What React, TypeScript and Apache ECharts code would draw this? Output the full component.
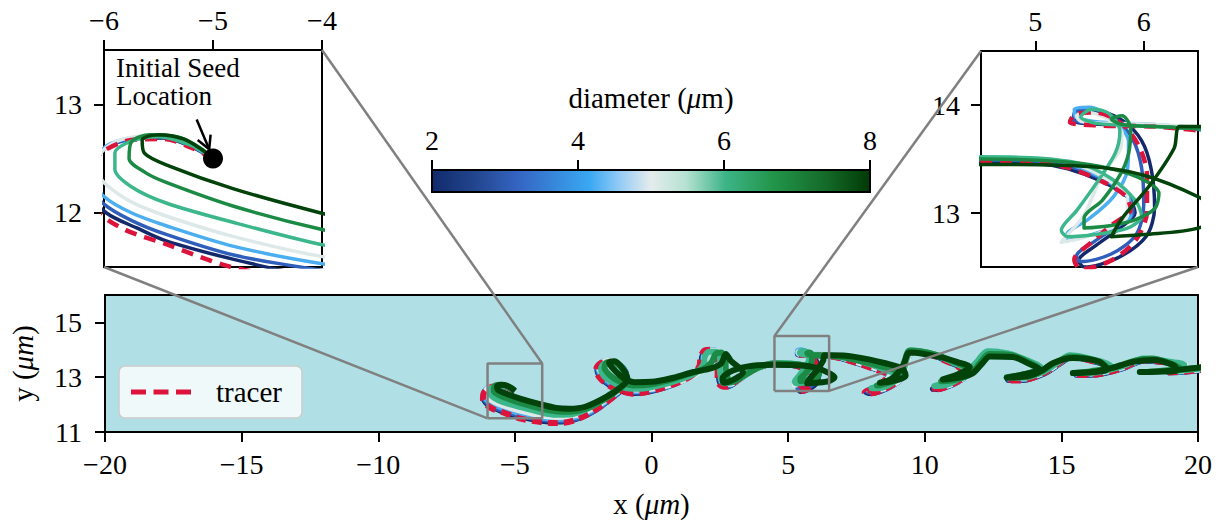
import React, { useEffect, useRef } from 'react';
import * as echarts from 'echarts';

const FONT = '"Liberation Serif", "DejaVu Serif", serif';

// Particle trajectories in the x–y plane (μm), all released at the seed point.
const tracer: number[][] = [
  [-5.0, 12.5], [-5.2, 12.6], [-5.45, 12.68], [-5.75, 12.67], [-6.0, 12.57], [-6.15, 12.4], [-6.17, 12.2], [-6.05, 12.0],
  [-5.8, 11.84], [-5.43, 11.71], [-4.87, 11.51], [-4.3, 11.4], [-3.7, 11.33], [-3.2, 11.34], [-2.7, 11.47], [-2.2, 11.72],
  [-1.7, 12.05], [-1.25, 12.4], [-0.95, 12.75], [-0.95, 13.1], [-1.2, 13.42], [-1.55, 13.56], [-1.88, 13.5], [-2.03, 13.27],
  [-1.9, 12.98], [-1.6, 12.72], [-1.2, 12.52], [-0.7, 12.4], [-0.2, 12.45], [0.4, 12.6], [1.0, 12.82], [1.5, 13.08],
  [1.75, 13.4], [1.8, 13.75], [1.95, 13.98], [2.2, 14.0], [2.38, 13.78], [2.42, 13.4], [2.42, 13.0], [2.5, 12.72],
  [2.75, 12.65], [3.1, 12.85], [3.6, 13.2], [4.1, 13.42], [4.5, 13.48], [5.0, 13.47], [5.3, 13.42], [5.6, 13.3],
  [5.83, 13.16], [5.88, 13.03], [5.72, 12.9], [5.52, 12.73], [5.36, 12.57], [5.42, 12.48], [5.68, 12.55], [5.92, 12.74],
  [6.03, 13.02], [6.03, 13.35], [5.95, 13.63], [5.78, 13.84], [5.55, 13.93], [5.36, 13.91], [5.32, 13.84], [5.6, 13.81],
  [6.1, 13.8], [6.8, 13.72], [7.5, 13.52], [8.2, 13.28], [8.65, 13.08], [8.5, 12.85], [8.1, 12.58], [7.8, 12.45],
  [7.95, 12.4], [8.5, 12.55], [9.0, 12.85], [9.2, 13.3], [9.35, 13.75], [9.5, 13.95], [10.1, 13.85], [10.8, 13.58],
  [11.35, 13.25], [11.0, 12.95], [10.5, 12.65], [10.25, 12.55], [10.6, 12.58], [11.3, 12.9], [11.85, 13.45], [12.3, 13.92],
  [13.0, 13.85], [13.7, 13.58], [14.2, 13.32], [13.8, 13.08], [13.0, 12.88], [13.5, 12.88], [14.3, 13.12], [14.9, 13.5],
  [15.3, 13.75], [16.0, 13.62], [16.75, 13.36], [16.3, 13.17], [15.5, 13.08], [16.3, 13.1], [17.2, 13.32], [18.0, 13.62],
  [18.7, 13.55], [19.5, 13.4], [19.1, 13.25], [18.9, 13.17], [19.5, 13.2], [20.4, 13.3],
];

const d2: number[][] = [
  [-5.0, 12.5], [-5.2, 12.61], [-5.45, 12.69], [-5.75, 12.68], [-5.98, 12.6], [-6.12, 12.42], [-6.13, 12.2], [-5.98, 12.0],
  [-5.7, 11.86], [-5.43, 11.74], [-4.81, 11.57], [-4.2, 11.44], [-3.6, 11.38], [-3.1, 11.4], [-2.6, 11.53], [-2.1, 11.78],
  [-1.65, 12.1], [-1.2, 12.45], [-0.92, 12.78], [-0.93, 13.12], [-1.18, 13.44], [-1.52, 13.57], [-1.84, 13.52], [-1.98, 13.28],
  [-1.86, 12.99], [-1.56, 12.73], [-1.15, 12.53], [-0.65, 12.42], [-0.15, 12.47], [0.45, 12.62], [1.05, 12.84], [1.55, 13.1],
  [1.8, 13.42], [1.86, 13.76], [2.0, 13.97], [2.24, 13.99], [2.42, 13.77], [2.46, 13.4], [2.47, 13.0], [2.55, 12.74],
  [2.8, 12.68], [3.15, 12.88], [3.65, 13.22], [4.15, 13.43], [4.5, 13.47], [5.0, 13.46], [5.3, 13.41], [5.62, 13.29],
  [5.86, 13.14], [5.92, 13.0], [5.78, 12.86], [5.56, 12.7], [5.4, 12.56], [5.45, 12.5], [5.75, 12.58], [6.02, 12.78],
  [6.1, 13.05], [6.07, 13.4], [5.98, 13.67], [5.8, 13.86], [5.57, 13.94], [5.4, 13.92], [5.36, 13.85], [5.65, 13.82],
  [6.1, 13.81], [6.8, 13.73], [7.5, 13.53], [8.2, 13.3], [8.7, 13.1], [8.55, 12.86], [8.15, 12.6], [7.85, 12.47],
  [8.0, 12.42], [8.55, 12.57], [9.05, 12.88], [9.25, 13.32], [9.4, 13.76], [9.55, 13.95], [10.15, 13.85], [10.85, 13.58],
  [11.4, 13.26], [11.05, 12.96], [10.55, 12.67], [10.3, 12.57], [10.65, 12.6], [11.35, 12.92], [11.9, 13.46], [12.35, 13.92],
  [13.05, 13.85], [13.75, 13.58], [14.25, 13.32], [13.85, 13.09], [13.05, 12.9], [13.55, 12.9], [14.35, 13.13], [14.95, 13.5],
  [15.35, 13.74], [16.05, 13.62], [16.8, 13.36], [16.35, 13.18], [15.55, 13.09], [16.35, 13.11], [17.25, 13.33], [18.05, 13.61],
  [18.75, 13.55], [19.55, 13.4], [19.15, 13.26], [18.95, 13.18], [19.55, 13.21], [20.4, 13.3],
];

const d3: number[][] = [
  [-5.0, 12.5], [-5.2, 12.61], [-5.45, 12.7], [-5.75, 12.68], [-5.98, 12.6], [-6.1, 12.44], [-6.11, 12.24], [-6.0, 12.08],
  [-5.75, 11.93], [-5.43, 11.8], [-4.81, 11.61], [-4.0, 11.47], [-3.5, 11.42], [-3.0, 11.45], [-2.5, 11.58], [-2.0, 11.83],
  [-1.6, 12.14], [-1.18, 12.48], [-0.92, 12.8], [-0.94, 13.14], [-1.18, 13.45], [-1.52, 13.58], [-1.84, 13.53], [-1.96, 13.3],
  [-1.84, 13.02], [-1.54, 12.76], [-1.12, 12.56], [-0.6, 12.46], [-0.1, 12.5], [0.5, 12.64], [1.1, 12.86], [1.6, 13.12],
  [1.85, 13.44], [1.9, 13.77], [2.04, 13.97], [2.27, 13.98], [2.44, 13.76], [2.48, 13.38], [2.5, 13.0], [2.58, 12.76],
  [2.82, 12.7], [3.18, 12.9], [3.7, 13.24], [4.2, 13.45], [4.5, 13.49], [5.0, 13.48], [5.32, 13.43], [5.64, 13.3],
  [5.87, 13.14], [5.9, 13.0], [5.76, 12.88], [5.55, 12.74], [5.38, 12.6], [5.42, 12.55], [5.7, 12.62], [5.93, 12.8],
  [6.0, 13.08], [5.98, 13.42], [5.9, 13.68], [5.74, 13.87], [5.52, 13.96], [5.37, 13.94], [5.35, 13.86], [5.62, 13.83],
  [6.1, 13.81], [6.8, 13.74], [7.5, 13.54], [8.2, 13.31], [8.72, 13.12], [8.58, 12.88], [8.2, 12.63], [7.9, 12.5],
  [8.05, 12.46], [8.6, 12.6], [9.1, 12.9], [9.28, 13.34], [9.42, 13.78], [9.58, 13.96], [10.2, 13.85], [10.9, 13.58],
  [11.42, 13.27], [11.08, 12.98], [10.6, 12.7], [10.35, 12.6], [10.7, 12.63], [11.4, 12.95], [11.92, 13.48], [12.35, 13.93],
  [13.05, 13.86], [13.78, 13.58], [14.25, 13.33], [13.85, 13.1], [13.08, 12.92], [13.58, 12.92], [14.35, 13.15], [14.95, 13.52],
  [15.35, 13.75], [16.05, 13.63], [16.8, 13.37], [16.35, 13.19], [15.55, 13.1], [16.35, 13.13], [17.25, 13.34], [18.05, 13.62],
  [18.75, 13.56], [19.55, 13.41], [19.15, 13.27], [18.95, 13.19], [19.55, 13.22], [20.4, 13.31],
];

const d4: number[][] = [
  [-5.0, 12.5], [-5.2, 12.62], [-5.45, 12.71], [-5.75, 12.69], [-5.97, 12.62], [-6.08, 12.47], [-6.08, 12.3], [-6.0, 12.15],
  [-5.75, 12.0], [-5.43, 11.88], [-4.81, 11.69], [-4.0, 11.53], [-3.5, 11.48], [-3.0, 11.51], [-2.5, 11.64], [-2.0, 11.89],
  [-1.58, 12.2], [-1.16, 12.52], [-0.93, 12.82], [-0.96, 13.15], [-1.2, 13.46], [-1.53, 13.6], [-1.82, 13.55], [-1.93, 13.32],
  [-1.8, 13.05], [-1.5, 12.8], [-1.08, 12.6], [-0.55, 12.5], [-0.05, 12.54], [0.55, 12.67], [1.15, 12.88], [1.65, 13.14],
  [1.88, 13.45], [1.93, 13.78], [2.06, 13.98], [2.3, 13.98], [2.46, 13.74], [2.5, 13.36], [2.53, 13.0], [2.6, 12.78],
  [2.85, 12.73], [3.22, 12.93], [3.75, 13.26], [4.2, 13.46], [4.5, 13.5], [5.0, 13.5], [5.35, 13.44], [5.66, 13.3],
  [5.86, 13.14], [5.88, 12.98], [5.7, 12.86], [5.45, 12.78], [5.28, 12.74], [5.3, 12.82], [5.5, 12.95], [5.72, 13.15],
  [5.85, 13.4], [5.86, 13.66], [5.7, 13.88], [5.5, 13.98], [5.36, 13.96], [5.38, 13.88], [5.62, 13.84], [6.1, 13.82],
  [6.8, 13.75], [7.5, 13.55], [8.2, 13.32], [8.75, 13.12], [8.6, 12.9], [8.25, 12.65], [7.95, 12.53], [8.1, 12.5],
  [8.65, 12.63], [9.12, 12.93], [9.3, 13.36], [9.43, 13.8], [9.6, 13.97], [10.25, 13.86], [10.92, 13.59], [11.44, 13.28],
  [11.1, 12.99], [10.62, 12.72], [10.4, 12.63], [10.75, 12.66], [11.42, 12.97], [11.93, 13.5], [12.35, 13.94], [13.05, 13.87],
  [13.8, 13.59], [14.27, 13.34], [13.87, 13.12], [13.1, 12.94], [13.6, 12.94], [14.37, 13.17], [14.95, 13.53], [15.35, 13.77],
  [16.08, 13.65], [16.82, 13.39], [16.38, 13.21], [15.58, 13.12], [16.38, 13.15], [17.28, 13.36], [18.05, 13.64], [18.78, 13.57],
  [19.58, 13.42], [19.18, 13.28], [18.98, 13.2], [19.58, 13.23], [20.4, 13.32],
];

const d5: number[][] = [
  [-5.0, 12.5], [-5.2, 12.63], [-5.45, 12.71], [-5.72, 12.7], [-5.94, 12.63], [-6.05, 12.5], [-6.05, 12.37], [-5.98, 12.26],
  [-5.75, 12.1], [-5.43, 11.97], [-4.81, 11.78], [-4.02, 11.6], [-3.5, 11.55], [-3.0, 11.58], [-2.5, 11.7], [-2.0, 11.95],
  [-1.56, 12.26], [-1.15, 12.56], [-0.94, 12.85], [-0.98, 13.17], [-1.22, 13.47], [-1.54, 13.6], [-1.8, 13.55], [-1.9, 13.34],
  [-1.76, 13.07], [-1.46, 12.84], [-1.04, 12.65], [-0.5, 12.55], [0.0, 12.58], [0.6, 12.7], [1.2, 12.9], [1.7, 13.16],
  [1.9, 13.47], [1.95, 13.79], [2.08, 13.97], [2.32, 13.97], [2.47, 13.72], [2.52, 13.34], [2.56, 13.0], [2.62, 12.8],
  [2.88, 12.76], [3.26, 12.96], [3.8, 13.28], [4.2, 13.46], [4.5, 13.51], [5.0, 13.51], [5.37, 13.45], [5.68, 13.3],
  [5.85, 13.14], [5.85, 12.98], [5.65, 12.84], [5.4, 12.76], [5.24, 12.73], [5.3, 12.8], [5.45, 12.98], [5.62, 13.36],
  [5.78, 13.58], [5.8, 13.74], [5.65, 13.88], [5.47, 13.93], [5.38, 13.9], [5.42, 13.85], [5.65, 13.83], [6.1, 13.82],
  [6.8, 13.76], [7.5, 13.56], [8.2, 13.33], [8.78, 13.13], [8.62, 12.91], [8.28, 12.67], [8.0, 12.56], [8.15, 12.53],
  [8.7, 12.66], [9.15, 12.96], [9.32, 13.38], [9.44, 13.82], [9.62, 13.97], [10.28, 13.87], [10.95, 13.6], [11.45, 13.29],
  [11.12, 13.0], [10.65, 12.74], [10.42, 12.65], [10.78, 12.68], [11.44, 12.99], [11.95, 13.52], [12.33, 13.94], [13.05, 13.87],
  [13.8, 13.6], [14.28, 13.35], [13.88, 13.14], [13.12, 12.96], [13.62, 12.96], [14.38, 13.18], [14.95, 13.54], [15.33, 13.78],
  [16.08, 13.66], [16.82, 13.4], [16.4, 13.22], [15.6, 13.14], [16.4, 13.17], [17.28, 13.38], [18.05, 13.66], [18.78, 13.58],
  [19.58, 13.43], [19.2, 13.29], [19.0, 13.21], [19.6, 13.24], [20.4, 13.33],
];

const d6: number[][] = [
  [-5.0, 12.5], [-5.2, 12.62], [-5.5, 12.7], [-5.75, 12.66], [-5.9, 12.55], [-5.9, 12.4], [-5.75, 12.24], [-5.43, 12.09],
  [-4.81, 11.91], [-4.02, 11.71], [-3.5, 11.63], [-3.0, 11.64], [-2.5, 11.78], [-2.0, 12.03], [-1.6, 12.32], [-1.2, 12.6],
  [-0.95, 12.9], [-1.05, 13.25], [-1.35, 13.5], [-1.7, 13.5], [-1.85, 13.3], [-1.7, 13.0], [-1.35, 12.78], [-0.9, 12.6],
  [-0.4, 12.58], [0.3, 12.7], [1.0, 12.9], [1.6, 13.15], [1.9, 13.45], [1.95, 13.75], [2.1, 13.93], [2.35, 13.93],
  [2.5, 13.7], [2.5, 13.3], [2.55, 12.95], [2.65, 12.78], [2.9, 12.8], [3.3, 13.05], [3.9, 13.35], [4.5, 13.52],
  [5.0, 13.51], [5.4, 13.46], [5.7, 13.32], [5.92, 13.12], [5.98, 12.97], [5.85, 12.86], [5.55, 12.8], [5.3, 12.78],
  [5.24, 12.84], [5.38, 13.02], [5.58, 13.3], [5.74, 13.56], [5.78, 13.76], [5.68, 13.92], [5.52, 13.96], [5.42, 13.89],
  [5.56, 13.83], [5.9, 13.81], [6.5, 13.78], [7.2, 13.7], [7.9, 13.5], [8.6, 13.25], [8.95, 13.1], [8.7, 12.9],
  [8.3, 12.68], [8.05, 12.6], [8.3, 12.6], [8.8, 12.78], [9.2, 13.2], [9.35, 13.7], [9.5, 13.97], [10.2, 13.88],
  [10.9, 13.6], [11.45, 13.28], [11.1, 13.0], [10.6, 12.75], [10.35, 12.68], [10.8, 12.72], [11.4, 13.05], [11.9, 13.55],
  [12.3, 13.95], [13.0, 13.88], [13.8, 13.6], [14.25, 13.35], [13.85, 13.15], [13.1, 12.98], [13.6, 12.98], [14.35, 13.2],
  [14.9, 13.55], [15.3, 13.8], [16.05, 13.68], [16.8, 13.42], [16.35, 13.25], [15.6, 13.15], [16.35, 13.18], [17.25, 13.4],
  [18.0, 13.68], [18.75, 13.6], [19.5, 13.45], [19.1, 13.3], [18.9, 13.22], [19.5, 13.25], [20.4, 13.35],
];

const d7: number[][] = [
  [-5.0, 12.5], [-5.12, 12.6], [-5.33, 12.7], [-5.58, 12.72], [-5.75, 12.65], [-5.77, 12.5], [-5.62, 12.37], [-5.43, 12.28],
  [-4.81, 12.06], [-4.02, 11.85], [-3.5, 11.76], [-3.0, 11.74], [-2.4, 11.85], [-1.7, 12.2], [-1.2, 12.55], [-0.9, 12.88],
  [-1.0, 13.25], [-1.3, 13.52], [-1.62, 13.55], [-1.72, 13.35], [-1.5, 13.05], [-1.15, 12.83], [-0.7, 12.7], [-0.1, 12.72],
  [0.6, 12.88], [1.3, 13.1], [1.9, 13.3], [2.2, 13.55], [2.35, 13.85], [2.55, 13.9], [2.7, 13.65], [2.72, 13.3],
  [2.78, 13.0], [2.85, 12.82], [3.05, 12.85], [3.5, 13.12], [4.0, 13.38], [4.5, 13.5], [5.2, 13.48], [5.6, 13.43],
  [5.95, 13.33], [6.14, 13.18], [6.1, 13.04], [5.9, 12.93], [5.67, 12.88], [5.45, 12.86], [5.45, 12.95], [5.62, 13.12],
  [5.78, 13.35], [5.86, 13.55], [5.88, 13.78], [5.8, 13.9], [5.7, 13.87], [5.8, 13.82], [6.1, 13.8], [6.8, 13.76],
  [7.6, 13.6], [8.4, 13.4], [9.05, 13.2], [9.15, 13.0], [8.7, 12.8], [8.25, 12.7], [8.6, 12.78], [9.0, 13.05],
  [9.25, 13.55], [9.45, 13.97], [10.4, 13.82], [11.1, 13.55], [11.55, 13.32], [11.15, 13.05], [10.6, 12.85], [11.2, 12.92],
  [11.7, 13.15], [12.05, 13.55], [12.35, 13.85], [13.2, 13.8], [13.85, 13.52], [14.2, 13.3], [13.7, 13.12], [13.0, 13.0],
  [13.75, 13.02], [14.3, 13.22], [14.8, 13.55], [15.35, 13.75], [16.2, 13.62], [16.7, 13.34], [16.1, 13.22], [15.5, 13.15],
  [16.25, 13.2], [17.0, 13.38], [17.7, 13.6], [18.3, 13.68], [19.0, 13.5], [19.35, 13.32], [18.7, 13.24], [18.2, 13.2],
  [19.0, 13.24], [20.4, 13.38],
];

const d8: number[][] = [
  [-5.0, 12.5], [-5.1, 12.58], [-5.27, 12.68], [-5.5, 12.72], [-5.65, 12.67], [-5.63, 12.55], [-5.4, 12.43], [-4.81, 12.22],
  [-4.02, 12.0], [-3.5, 11.88], [-3.0, 11.85], [-2.4, 11.93], [-1.64, 12.29], [-1.15, 12.62], [-0.88, 12.92], [-1.05, 13.3],
  [-1.35, 13.58], [-1.55, 13.55], [-1.35, 13.25], [-1.0, 12.95], [-0.6, 12.82], [0.0, 12.83], [0.8, 12.98], [1.5, 13.18],
  [2.2, 13.33], [2.55, 13.5], [2.72, 13.85], [2.9, 13.6], [3.35, 13.18], [3.1, 12.97], [2.65, 12.8], [2.6, 12.95],
  [3.0, 13.25], [3.7, 13.42], [4.5, 13.45], [5.5, 13.43], [6.0, 13.35], [6.5, 13.15], [6.7, 13.0], [6.5, 12.86],
  [6.0, 12.8], [5.7, 12.78], [5.8, 12.95], [6.05, 13.25], [6.28, 13.6], [6.33, 13.8], [6.6, 13.8], [7.38, 13.75],
  [8.6, 13.5], [9.2, 13.3], [9.3, 13.05], [8.8, 12.86], [8.36, 12.8], [8.8, 12.95], [9.2, 13.4], [9.45, 13.9],
  [10.55, 13.74], [11.2, 13.55], [11.65, 13.37], [11.2, 13.1], [10.66, 12.92], [11.3, 13.0], [11.76, 13.15], [12.1, 13.5],
  [12.38, 13.76], [13.22, 13.74], [13.8, 13.5], [14.21, 13.28], [13.6, 13.1], [13.0, 12.98], [13.8, 13.05], [14.3, 13.25],
  [14.7, 13.52], [15.42, 13.7], [16.41, 13.56], [16.66, 13.28], [16.0, 13.18], [15.42, 13.15], [16.2, 13.2], [16.9, 13.35],
  [17.62, 13.56], [18.35, 13.63], [19.08, 13.45], [19.25, 13.25], [18.5, 13.2], [17.87, 13.19], [18.8, 13.22], [20.0, 13.35],
  [20.5, 13.4],
];

const diameters = [2, 3, 4, 5, 6, 7, 8];
const particleTracks = [d2, d3, d4, d5, d6, d7, d8];
const particleColors = ['#13296b', '#2f5fbb', '#4aaef0', '#dde8e8', '#3cb68b', '#1b8a45', '#01430a'];
const tracerColor = '#dc143c';

const seedPoint = [[-5, 12.5]];

const mainX = [-20, 20];
const mainY = [11, 16];
const mainYTicks = [11, 13, 15];
const leftZoom = { x: [-6, -4], y: [11.5, 13.5] };
const leftZoomYTicks = [12, 13];
const rightZoom = { x: [4.5, 6.5], y: [12.5, 14.5] };
const rightZoomXTicks = [5, 6];
const rightZoomYTicks = [13, 14];
const colorbarRange = [2, 8];

const colorbarStops: [number, string][] = [
  [0, '#112a6c'], [0.1, '#23468f'], [0.2, '#3566c4'], [0.3, '#3790e0'], [0.36, '#3aa8f3'],
  [0.43, '#95ccf5'], [0.5, '#e4ecec'], [0.58, '#b5e2d2'], [0.67, '#3db488'], [0.78, '#22954a'],
  [0.9, '#146a28'], [1, '#013a05'],
];

// dashed-line glyph for the legend entry (three dashes)
const dashIcon = 'path://M0,0H15V5H0Z M22.5,0H37.5V5H22.5Z M45,0H60V5H45Z';

const minus = (v: number) => String(v).replace('-', '\u2212');

function tickAxis(opts: any) {
  const { customValues, labelMargin, ...rest } = opts;
  return {
    type: 'value',
    splitLine: { show: false },
    axisLine: { show: false, onZero: false },
    axisTick: {
      show: true, inside: false, length: 10,
      lineStyle: { color: '#000', width: 2 },
      ...(customValues ? { customValues } : {}),
    },
    axisLabel: {
      color: '#000', fontSize: 28, fontFamily: FONT, margin: labelMargin,
      formatter: minus,
      ...(customValues ? { customValues } : {}),
    },
    ...rest,
  };
}

function trackSeries(gridIndex: number, width: number, tracerWidth: number, dash: number[]) {
  const out: any[] = [];
  const line = (name: string, data: number[][], color: string, w: number, type: any) => ({
    type: 'line', name, data, xAxisIndex: gridIndex, yAxisIndex: gridIndex,
    showSymbol: false, symbol: 'none', smooth: 0.3, clip: true, silent: true,
    lineStyle: { color, width: w, type, cap: 'butt', join: 'round' },
    itemStyle: { color },
  });
  for (let i = 0; i < 4; i++) {
    out.push(line(`d = ${diameters[i]} μm`, particleTracks[i], particleColors[i], width, 'solid'));
  }
  out.push(line('tracer', tracer, tracerColor, tracerWidth, dash));
  for (let i = 4; i < 7; i++) {
    out.push(line(`d = ${diameters[i]} μm`, particleTracks[i], particleColors[i], width, 'solid'));
  }
  return out;
}

function boxData(r: { x: number[]; y: number[] }) {
  return [
    [r.x[0], r.y[0]], [r.x[1], r.y[0]], [r.x[1], r.y[1]], [r.x[0], r.y[1]], [r.x[0], r.y[0]],
  ];
}

const italicRich = { it: { fontStyle: 'italic', fontSize: 29, fontFamily: FONT, color: '#000' } };

export default function App() {
  const ref = useRef<HTMLDivElement>(null);

  useEffect(() => {
    const chart = echarts.init(ref.current!, null, { renderer: 'svg' });

    const gradient = new echarts.graphic.LinearGradient(
      0, 0, 1, 0,
      colorbarStops.map(([offset, color]) => ({ offset, color })),
    );

    const option: any = {
      animation: false,
      textStyle: { fontFamily: FONT, color: '#000' },
      grid: [
        { left: 105, top: 295, width: 1093, height: 137, show: true, backgroundColor: '#b0e0e6', borderColor: '#000', borderWidth: 2 },
        { left: 104, top: 50, width: 218, height: 217, show: true, backgroundColor: '#ffffff', borderColor: '#000', borderWidth: 2 },
        { left: 981, top: 51, width: 217, height: 216, show: true, backgroundColor: '#ffffff', borderColor: '#000', borderWidth: 2 },
        { left: 432, top: 170, width: 438, height: 22, show: true, backgroundColor: gradient, borderColor: '#000', borderWidth: 2 },
      ],
      xAxis: [
        tickAxis({
          gridIndex: 0, min: mainX[0], max: mainX[1], interval: 5, labelMargin: 18,
          name: 'x ({it|μm})', nameLocation: 'middle', nameGap: 57,
          nameTextStyle: { fontSize: 29, fontFamily: FONT, color: '#000', rich: italicRich },
        }),
        tickAxis({ gridIndex: 1, min: leftZoom.x[0], max: leftZoom.x[1], interval: 1, position: 'top', labelMargin: 16 }),
        tickAxis({ gridIndex: 2, min: rightZoom.x[0], max: rightZoom.x[1], position: 'top', labelMargin: 16, customValues: rightZoomXTicks }),
        tickAxis({
          gridIndex: 3, min: colorbarRange[0], max: colorbarRange[1], interval: 2, position: 'top', labelMargin: 16,
          name: 'diameter ({it|μ}m)', nameLocation: 'middle', nameGap: 58,
          nameTextStyle: { fontSize: 29, fontFamily: FONT, color: '#000', rich: italicRich },
        }),
      ],
      yAxis: [
        tickAxis({
          gridIndex: 0, min: mainY[0], max: mainY[1], labelMargin: 23, customValues: mainYTicks,
          name: 'y ({it|μm})', nameLocation: 'middle', nameGap: 68, nameRotate: 90,
          nameTextStyle: { fontSize: 29, fontFamily: FONT, color: '#000', rich: italicRich },
        }),
        tickAxis({ gridIndex: 1, min: leftZoom.y[0], max: leftZoom.y[1], labelMargin: 22, customValues: leftZoomYTicks }),
        tickAxis({ gridIndex: 2, min: rightZoom.y[0], max: rightZoom.y[1], labelMargin: 21, customValues: rightZoomYTicks }),
        { type: 'value', gridIndex: 3, min: 0, max: 1, show: false },
      ],
      legend: {
        data: ['tracer'],
        icon: dashIcon,
        left: 119, top: 366,
        padding: [11, 20, 11, 12],
        itemWidth: 60, itemHeight: 5,
        itemStyle: { color: tracerColor, borderWidth: 0 },
        backgroundColor: 'rgba(255,255,255,0.8)',
        borderColor: '#cccccc', borderWidth: 1.5, borderRadius: 6,
        textStyle: { fontSize: 29, fontFamily: FONT, color: '#000', padding: [0, 0, 0, 20], lineHeight: 30 },
      },
      series: [
        ...trackSeries(0, 6, 6, [10, 6]),
        {
          type: 'line', name: 'zoom box left', data: boxData(leftZoom), xAxisIndex: 0, yAxisIndex: 0,
          symbol: 'none', silent: true, z: 5, lineStyle: { color: '#808080', width: 2.5 },
        },
        {
          type: 'line', name: 'zoom box right', data: boxData(rightZoom), xAxisIndex: 0, yAxisIndex: 0,
          symbol: 'none', silent: true, z: 5, lineStyle: { color: '#808080', width: 2.5 },
        },
        ...trackSeries(1, 3.5, 4.5, [12, 8]),
        {
          type: 'scatter', name: 'seed', data: seedPoint, xAxisIndex: 1, yAxisIndex: 1,
          symbolSize: 20, itemStyle: { color: '#000', opacity: 1 }, z: 6, silent: true,
        },
        ...trackSeries(2, 3.5, 4.5, [12, 8]),
        { type: 'line', name: 'colorbar', data: [], xAxisIndex: 3, yAxisIndex: 3 },
      ],
    };

    chart.setOption(option);

    const px = (g: number, p: number[]) => chart.convertToPixel({ gridIndex: g }, p) as number[];
    const connector = (a: number[], b: number[]) => ({
      type: 'line', z: 50, silent: true,
      shape: { x1: a[0], y1: a[1], x2: b[0], y2: b[1] },
      style: { stroke: '#808080', lineWidth: 2.5 },
    });

    const lBL = [leftZoom.x[0], leftZoom.y[0]];
    const lTR = [leftZoom.x[1], leftZoom.y[1]];
    const rTL = [rightZoom.x[0], rightZoom.y[1]];
    const rBR = [rightZoom.x[1], rightZoom.y[0]];

    const tail = px(1, [-5.15, 12.86]);
    const head = px(1, [-5.035, 12.585]);
    const dx = head[0] - tail[0];
    const dy = head[1] - tail[1];
    const len = Math.hypot(dx, dy);
    const ux = dx / len, uy = dy / len;
    const nx = -uy, ny = ux;
    const arm = 13, half = 7;
    const textAt = px(1, [-5.89, 13.46]);

    chart.setOption({
      graphic: [
        connector(px(1, lBL), px(0, lBL)),
        connector(px(1, lTR), px(0, lTR)),
        connector(px(2, rTL), px(0, rTL)),
        connector(px(2, rBR), px(0, rBR)),
        {
          type: 'line', z: 60, silent: true,
          shape: { x1: tail[0], y1: tail[1], x2: head[0], y2: head[1] },
          style: { stroke: '#000', lineWidth: 2.5 },
        },
        {
          type: 'polyline', z: 60, silent: true,
          shape: {
            points: [
              [head[0] - arm * ux + half * nx, head[1] - arm * uy + half * ny],
              [head[0], head[1]],
              [head[0] - arm * ux - half * nx, head[1] - arm * uy - half * ny],
            ],
          },
          style: { stroke: '#000', lineWidth: 2.5, fill: 'none' },
        },
        {
          type: 'text', z: 60, silent: true,
          x: textAt[0], y: textAt[1],
          style: {
            text: 'Initial Seed\nLocation',
            font: `27px ${FONT}`, fill: '#000',
            lineHeight: 28, verticalAlign: 'top', align: 'left',
          },
        },
      ],
    });

    return () => chart.dispose();
  }, []);

  return (
    <div
      ref={ref}
      style={{ position: 'fixed', left: 0, top: 0, width: 1223, height: 529, background: '#fff' }}
    />
  );
}
